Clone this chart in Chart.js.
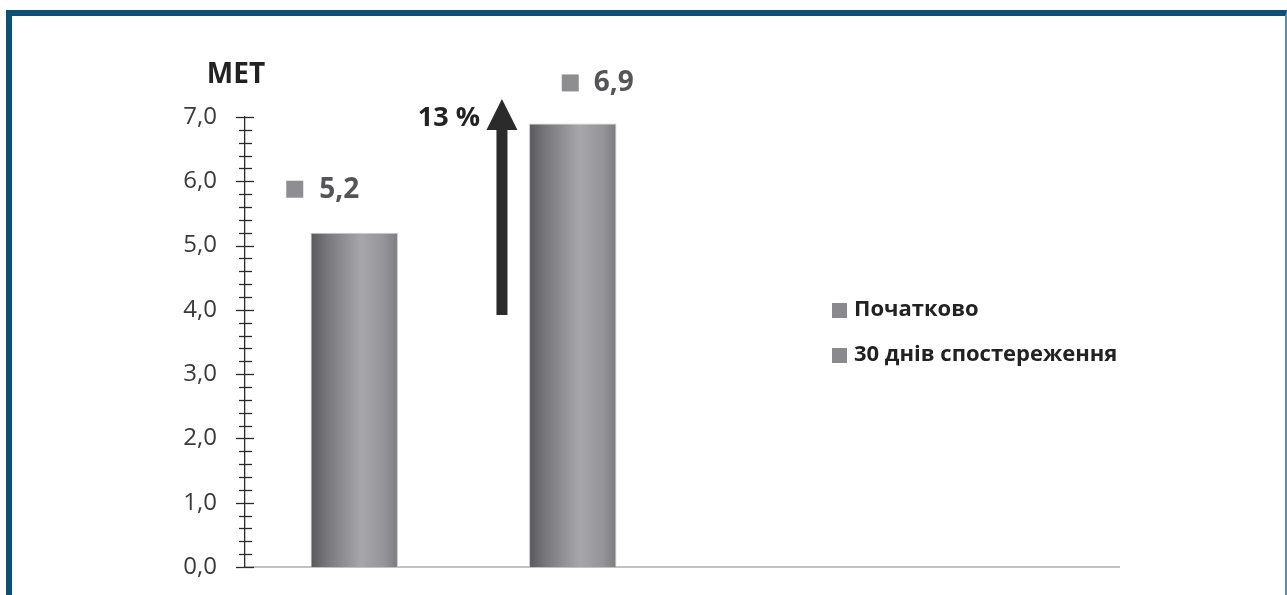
<!DOCTYPE html>
<html>
<head>
<meta charset="utf-8">
<script src="https://cdn.jsdelivr.net/npm/chart.js@4.4.1/dist/chart.umd.min.js"></script>
<style>
  html, body { margin: 0; padding: 0; background: #ffffff; }
  #wrap { position: relative; width: 1287px; height: 595px; overflow: hidden; }
  #frame { position: absolute; left: 6px; top: 10px; width: 1273px; height: 600px;
           border-top: 6px solid #0c5175; border-left: 6px solid #0c5175; border-right: 2px solid #5a8eae;
           pointer-events: none; }
  canvas { position: absolute; left: 0; top: 0; }
</style>
</head>
<body>
<div id="wrap">
  <canvas id="c" width="1287" height="595"></canvas>
  <div id="frame"></div>
</div>
<script>
// ---- data ----
const categories = ['', '', '', ''];
const seriesNames = ['Початково', '30 днів спостереження'];
const initialValues = [5.2, null, null, null];
const day30Values = [null, 6.9, null, null];
const yTickValues = [0, 1, 2, 3, 4, 5, 6, 7];
const axisTitle = 'МЕТ';
const changeLabel = '13 %';
const changeFrom = 3.92;
const changeTo = 7.28;

const FONT = '"Open Sans", "DejaVu Sans", sans-serif';

function barGradient(ctx) {
  const chart = ctx.chart;
  const xs = chart.scales && chart.scales.x;
  if (!chart.chartArea || !xs || ctx.dataIndex === undefined) return '#8a8a8e';
  const cx = xs.getPixelForValue(ctx.dataIndex);
  const w = xs.width / categories.length * 0.4;
  const g = chart.ctx.createLinearGradient(cx - w / 2, 0, cx + w / 2, 0);
  g.addColorStop(0, '#58585c');
  g.addColorStop(0.18, '#77777b');
  g.addColorStop(0.58, '#a7a7ab');
  g.addColorStop(0.85, '#949498');
  g.addColorStop(1, '#7c7c80');
  return g;
}

const labelOffsets = [
  { sq: -68, tx: -35, dy: -44 },
  { sq: -11, tx: 21, dy: -41 }
];

const decorPlugin = {
  id: 'decor',
  afterDraw(chart) {
    const c = chart.ctx;
    const ys = chart.scales.y, xs = chart.scales.x;
    const ax = chart.chartArea.left;
    // crossing ticks on y axis
    c.save();
    c.strokeStyle = '#2a2a2a';
    c.lineWidth = 1.3;
    for (let i = 0; i <= 35; i++) {
      const v = i * 0.2;
      const y = Math.round(ys.getPixelForValue(v)) + 0.5;
      const major = i % 5 === 0;
      c.beginPath();
      c.moveTo(ax - (major ? 9 : 6), y);
      c.lineTo(ax + (major ? 9 : 7), y);
      c.stroke();
    }
    c.restore();

    // axis title
    c.save();
    c.fillStyle = '#222';
    c.font = 'bold 28px ' + FONT;
    c.textAlign = 'center';
    c.textBaseline = 'middle';
    c.fillText(axisTitle, ax - 9, ys.getPixelForValue(7) - 42);
    c.restore();

    // value labels
    chart.data.datasets.forEach((ds, di) => {
      const meta = chart.getDatasetMeta(di);
      meta.data.forEach((el, i) => {
        const v = ds.data[i];
        if (v === null || v === undefined) return;
        const off = labelOffsets[di];
        const y = el.y + off.dy;
        c.save();
        c.fillStyle = '#8e8e92';
        c.fillRect(el.x + off.sq, y - 8, 17, 17);
        c.fillStyle = '#555558';
        c.font = 'bold 28px ' + FONT;
        c.textAlign = 'left';
        c.textBaseline = 'middle';
        c.fillText(v.toFixed(1).replace('.', ','), el.x + off.tx, y + 1);
        c.restore();
      });
    });

    // change arrow
    const axX = xs.getPixelForValue(0.676);
    const yTip = ys.getPixelForValue(changeTo);
    const yBot = ys.getPixelForValue(changeFrom);
    const headLen = 31;
    c.save();
    c.fillStyle = '#2b2b2b';
    c.fillRect(axX - 5.5, yTip + headLen - 1, 11, yBot - yTip - headLen + 1);
    c.beginPath();
    c.moveTo(axX, yTip);
    c.lineTo(axX + 15.5, yTip + headLen);
    c.lineTo(axX - 15.5, yTip + headLen);
    c.closePath();
    c.fill();
    c.fillStyle = '#222';
    c.font = 'bold 27px ' + FONT;
    c.textAlign = 'right';
    c.textBaseline = 'middle';
    c.fillText(changeLabel, axX - 22, yTip + 19);
    c.restore();

    // legend
    c.save();
    c.font = 'bold 22px ' + FONT;
    c.textBaseline = 'middle';
    c.textAlign = 'left';
    seriesNames.forEach((name, i) => {
      const y = 310 + i * 45;
      c.fillStyle = '#8a8a8e';
      c.fillRect(832, y - 7, 15, 15);
      c.fillStyle = '#222';
      c.fillText(name, 854, y);
    });
    c.restore();
  }
};

new Chart(document.getElementById('c'), {
  type: 'bar',
  data: {
    labels: categories,
    datasets: [
      { label: seriesNames[0], data: initialValues, backgroundColor: barGradient,
        borderColor: '#c9c9cc', borderWidth: 1, categoryPercentage: 0.8, barPercentage: 0.5 },
      { label: seriesNames[1], data: day30Values, backgroundColor: barGradient,
        borderColor: '#c9c9cc', borderWidth: 1, categoryPercentage: 0.8, barPercentage: 0.5 }
    ]
  },
  options: {
    responsive: false,
    animation: false,
    devicePixelRatio: 1,
    skipNull: true,
    layout: { padding: { left: 0, top: 117, right: 168, bottom: 0 } },
    plugins: { legend: { display: false }, tooltip: { enabled: false } },
    scales: {
      x: {
        grid: { display: false },
        ticks: { display: false },
        border: { color: '#c2c2c2', width: 2 },
        afterFit(s) { s.height = 28; }
      },
      y: {
        min: 0, max: 7,
        afterBuildTicks(s) { s.ticks = yTickValues.map(v => ({ value: v })); },
        grid: { display: false, drawTicks: true, tickLength: 28 },
        border: { color: '#2a2a2a', width: 1.3 },
        ticks: {
          padding: 0,
          color: '#3a3a3a',
          font: { family: FONT, size: 24 },
          callback: v => Number(v).toFixed(1).replace('.', ',')
        },
        afterFit(s) { s.width = 245; }
      }
    }
  },
  plugins: [decorPlugin]
});
</script>
</body>
</html>
